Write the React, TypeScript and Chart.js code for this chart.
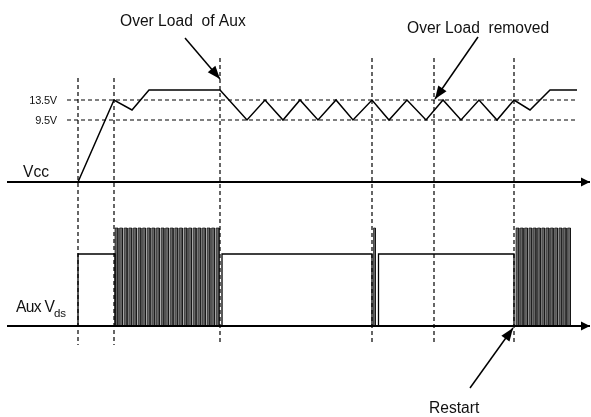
import React, { useEffect, useRef } from 'react';
import { Chart, registerables } from 'chart.js';

Chart.register(...registerables);

// ---- diagram data (time in diagram units, levels in diagram units) ----
const markerTimes = [78, 114, 220, 372, 434, 514];
const markerTops = [104, 104, 124, 124, 124, 124];
const markerBottom = -163;

const axisStart = 7;
const axisEnd = 590;

const vccTimes = [78, 114, 132, 149, 220, 247, 265, 283, 300, 318, 336, 353, 372, 389, 407, 426, 443, 461, 479, 497, 514, 530, 550, 577];
const vccLevels = [0, 82, 72, 92, 92, 62, 82, 62, 82, 62, 82, 62, 82, 62, 82, 62, 82, 62, 82, 62, 82, 72, 92, 92];

const thresholdNames = ['13.5V', '9.5V'];
const thresholdLevels = [82, 62];
const thresholdStart = 67;
const thresholdEnd = 577;

const auxTimes = [78, 78, 115, 115, 222, 222, 372, 372, 378.5, 378.5, 514, 514];
const auxLevels = [0, 72, 72, 0, 0, 72, 72, 0, 0, 72, 72, 0];

const pulseHigh = 98;
const burst1Starts = [115, 119.6, 124.2, 128.8, 133.4, 138, 142.6, 147.2, 151.8, 156.4, 161, 165.6, 170.2, 174.8, 179.4, 184, 188.6, 193.2, 197.8, 202.4, 207, 211.6, 216.2];
const burst1Width = 3.0;
const spikeStarts = [373.5];
const spikeWidth = 2;
const burst2Starts = [516, 520.3, 524.6, 528.9, 533.2, 537.5, 541.8, 546.1, 550.4, 554.7, 559, 563.3, 567.6];
const burst2Width = 2.9;

// annotation arrows (tip at the second point)
const noteArrowStarts = [[185, 144], [478, 145], [470, -62]];
const noteArrowTips = [[220, 103], [435, 83], [513, -2]];
const noteArrowAxes = ['yv', 'yv', 'ya'];

const noteTexts = ['Over Load  of Aux', 'Over Load  removed', 'Restart', 'Vcc'];
const noteX = [120, 407, 429, 23];
const noteY = [156, 149, -87, 5];
const noteAxes = ['yv', 'yv', 'ya', 'yv'];

const auxLabel = 'Aux V';
const auxSub = 'ds';
const auxLabelX = 16;
const auxLabelY = 14;

const FONT = '"Liberation Sans", Arial, Helvetica, sans-serif';

function pulseTrain(starts: number[], width: number) {
  const pts: { x: number; y: number }[] = [];
  starts.forEach((s) => {
    pts.push({ x: s, y: 0 }, { x: s, y: pulseHigh }, { x: s + width, y: pulseHigh }, { x: s + width, y: 0 });
  });
  return pts;
}

const arrowPlugin = {
  id: 'arrowHeads',
  afterDatasetsDraw(chart: any) {
    const ctx = chart.ctx;
    chart.data.datasets.forEach((ds: any, i: number) => {
      if (!ds.arrowHead) return;
      const pts = chart.getDatasetMeta(i).data;
      const a = pts[pts.length - 2];
      const b = pts[pts.length - 1];
      const ang = Math.atan2(b.y - a.y, b.x - a.x);
      const L = ds.arrowHead.len;
      const hw = ds.arrowHead.half;
      ctx.save();
      ctx.fillStyle = '#000';
      ctx.beginPath();
      ctx.moveTo(b.x, b.y);
      ctx.lineTo(b.x - L * Math.cos(ang) + hw * Math.sin(ang), b.y - L * Math.sin(ang) - hw * Math.cos(ang));
      ctx.lineTo(b.x - L * Math.cos(ang) - hw * Math.sin(ang), b.y - L * Math.sin(ang) + hw * Math.cos(ang));
      ctx.closePath();
      ctx.fill();
      ctx.restore();
    });
  },
};

const textPlugin = {
  id: 'diagramText',
  afterDraw(chart: any) {
    const ctx = chart.ctx;
    const sx = chart.scales.x;
    ctx.save();
    ctx.fillStyle = '#111';
    ctx.textBaseline = 'alphabetic';
    ctx.textAlign = 'left';
    ctx.font = `15.6px ${FONT}`;
    (ctx as any).letterSpacing = '0px';
    noteTexts.forEach((t, i) => {
      ctx.fillText(t, sx.getPixelForValue(noteX[i]), chart.scales[noteAxes[i]].getPixelForValue(noteY[i]));
    });
    // Aux V_ds
    (ctx as any).letterSpacing = '-0.7px';
    const ax = sx.getPixelForValue(auxLabelX);
    const ay = chart.scales.ya.getPixelForValue(auxLabelY);
    ctx.fillText(auxLabel, ax, ay);
    const w = ctx.measureText(auxLabel).width;
    ctx.font = `11.5px ${FONT}`;
    (ctx as any).letterSpacing = '-0.2px';
    ctx.fillText(auxSub, ax + w, ay + 5);
    // thresholds
    ctx.font = `11px ${FONT}`;
    (ctx as any).letterSpacing = '-0.2px';
    ctx.textAlign = 'right';
    thresholdNames.forEach((t, i) => {
      ctx.fillText(t, sx.getPixelForValue(thresholdStart) - 10, chart.scales.yv.getPixelForValue(thresholdLevels[i]) + 4);
    });
    ctx.restore();
  },
};

export default function App() {
  const ref = useRef<HTMLCanvasElement | null>(null);

  useEffect(() => {
    document.body.style.margin = '0';
    if (!ref.current) return;
    const line = (data: any[], axis: string, extra: any = {}) => ({
      data,
      yAxisID: axis,
      borderColor: '#000',
      borderWidth: 1.5,
      pointRadius: 0,
      tension: 0,
      fill: false,
      ...extra,
    });

    const datasets: any[] = [];
    // time axes
    datasets.push(line([{ x: axisStart, y: 0 }, { x: axisEnd, y: 0 }], 'yv', { borderWidth: 1.8, arrowHead: { len: 9, half: 4.5 } }));
    datasets.push(line([{ x: axisStart, y: 0 }, { x: axisEnd, y: 0 }], 'ya', { borderWidth: 1.8, arrowHead: { len: 9, half: 4.5 } }));
    // vertical markers
    markerTimes.forEach((t, i) => {
      datasets.push(line([{ x: t, y: markerTops[i] }, { x: t, y: markerBottom }], 'yv', { borderWidth: 1.2, borderDash: [4, 3] }));
    });
    // thresholds
    thresholdLevels.forEach((lv) => {
      datasets.push(line([{ x: thresholdStart, y: lv }, { x: thresholdEnd, y: lv }], 'yv', { borderWidth: 1.2, borderDash: [4, 3] }));
    });
    // Vcc
    datasets.push(line(vccTimes.map((t, i) => ({ x: t, y: vccLevels[i] })), 'yv', { borderWidth: 1.5 }));
    // Aux
    datasets.push(line(auxTimes.map((t, i) => ({ x: t, y: auxLevels[i] })), 'ya', { borderWidth: 1.3 }));
    const burstStyle = { borderWidth: 0.7, fill: 'origin', backgroundColor: '#666666', borderColor: '#111' };
    datasets.push(line(pulseTrain(burst1Starts, burst1Width), 'ya', burstStyle));
    datasets.push(line(pulseTrain(spikeStarts, spikeWidth), 'ya', burstStyle));
    datasets.push(line(pulseTrain(burst2Starts, burst2Width), 'ya', burstStyle));
    // annotation arrows
    noteArrowStarts.forEach((s, i) => {
      datasets.push(
        line([{ x: s[0], y: s[1] }, { x: noteArrowTips[i][0], y: noteArrowTips[i][1] }], noteArrowAxes[i], {
          borderWidth: 1.5,
          arrowHead: { len: 13, half: 5 },
        })
      );
    });

    const chart = new Chart(ref.current, {
      type: 'line',
      data: { datasets },
      options: {
        animation: false,
        responsive: false,
        maintainAspectRatio: false,
        events: [],
        layout: { padding: 0 },
        plugins: { legend: { display: false }, tooltip: { enabled: false } },
        scales: {
          x: { type: 'linear', min: 0, max: 591, display: false },
          yv: { type: 'linear', min: -235, max: 182, display: false },
          ya: { type: 'linear', min: -91, max: 326, display: false },
        },
      } as any,
      plugins: [arrowPlugin, textPlugin],
    });
    return () => chart.destroy();
  }, []);

  return (
    <div style={{ position: 'absolute', left: 0, top: 0, width: 591, height: 417, background: '#fff' }}>
      <canvas ref={ref} width={591} height={417} />
    </div>
  );
}
